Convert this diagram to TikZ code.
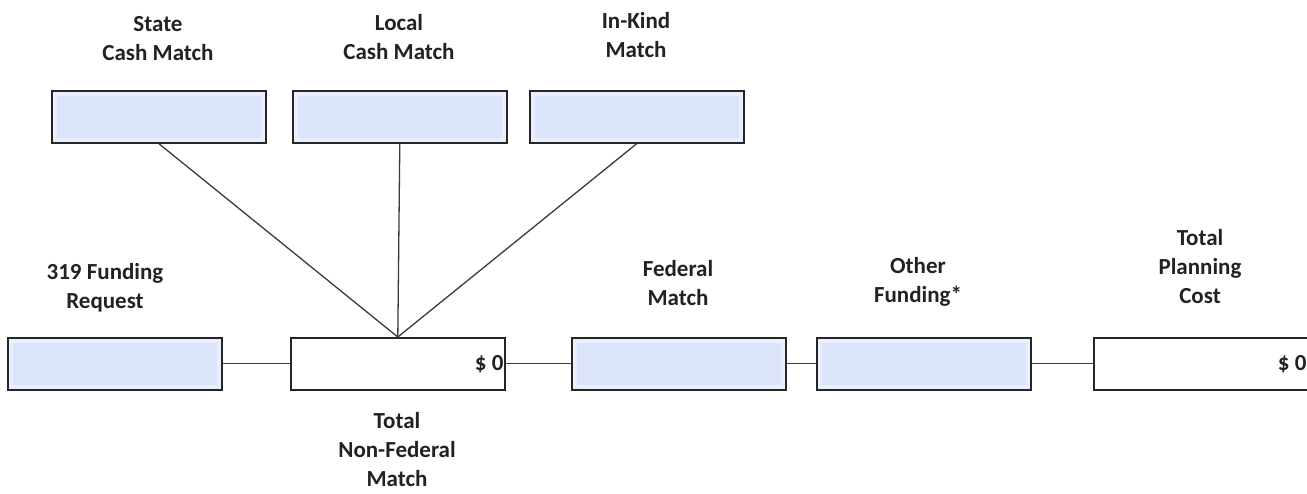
\documentclass[tikz,border=0pt]{standalone}
\usepackage{fontspec}
\setmainfont{Carlito}
\definecolor{textgray}{HTML}{222222}
\definecolor{boxline}{HTML}{262626}
\definecolor{linegray}{HTML}{3A3A3A}
\definecolor{innerblue}{HTML}{DCE4FC}
\definecolor{edgeblue}{HTML}{EAEFFE}
\begin{document}
\begin{tikzpicture}[x=1pt,y=-1pt,
  inbox/.style={draw=boxline, line width=1.6pt, fill=edgeblue, minimum width=214pt, minimum height=52pt, inner sep=0pt, anchor=north west,
    path picture={\fill[innerblue] ([xshift=5pt,yshift=-5pt]path picture bounding box.north west) rectangle ([xshift=-5pt,yshift=5pt]path picture bounding box.south east);}},
  sumbox/.style={draw=boxline, line width=1.6pt, fill=white, minimum width=214pt, minimum height=52pt, inner sep=0pt, anchor=north west},
  lbl/.style={font=\bfseries\fontsize{23}{29}\selectfont, align=center, text=textgray, inner sep=0pt},
  val/.style={font=\bfseries\fontsize{23}{29}\selectfont, text=textgray, inner sep=0pt, anchor=east},
  link/.style={draw=linegray, line width=1.3pt}]
\useasboundingbox (0,0) rectangle (1307,493);

% top row
\node[inbox] (state) at (51,90) {};
\node[inbox] (local) at (292,90) {};
\node[inbox] (inkind) at (529,90) {};

% bottom row
\node[inbox] (req) at (7,337) {};
\node[sumbox] (nonfed) at (290,337) {};
\node[inbox] (fed) at (571,337) {};
\node[inbox] (other) at (816,337) {};
\node[sumbox, minimum width=216pt] (total) at (1093,337) {};

\node[val] (nfval) at ([xshift=-2pt]nonfed.east) {\$ 0};
\node[val] (totval) at ([xshift=-4pt]total.east) {\$ 0};

% labels
\node[lbl] (lstate) at (158,39) {State\\Cash Match};
\node[lbl] (llocal) at (399,37) {Local\\Cash Match};
\node[lbl] (linkind) at (636,35) {In-Kind\\Match};
\node[lbl] (lreq) at (105,288) {319 Funding\\Request};
\node[lbl] (lfed) at (678,283) {Federal\\Match};
\node[lbl] (lother) at (918,282) {Other\\Funding*};
\node[lbl] (ltotal) at (1200,267) {Total\\Planning\\Cost};
\node[lbl] (lnonfed) at (397,450) {Total\\Non-Federal\\Match};

% connectors
\draw[link] (state.south) -- (nonfed.north);
\draw[link] (local.south) -- (nonfed.north);
\draw[link] (inkind.south) -- (nonfed.north);
\draw[link] (req.east) -- (nonfed.west);
\draw[link] (nonfed.east) -- (fed.west);
\draw[link] (fed.east) -- (other.west);
\draw[link] (other.east) -- (total.west);
\end{tikzpicture}
\end{document}
